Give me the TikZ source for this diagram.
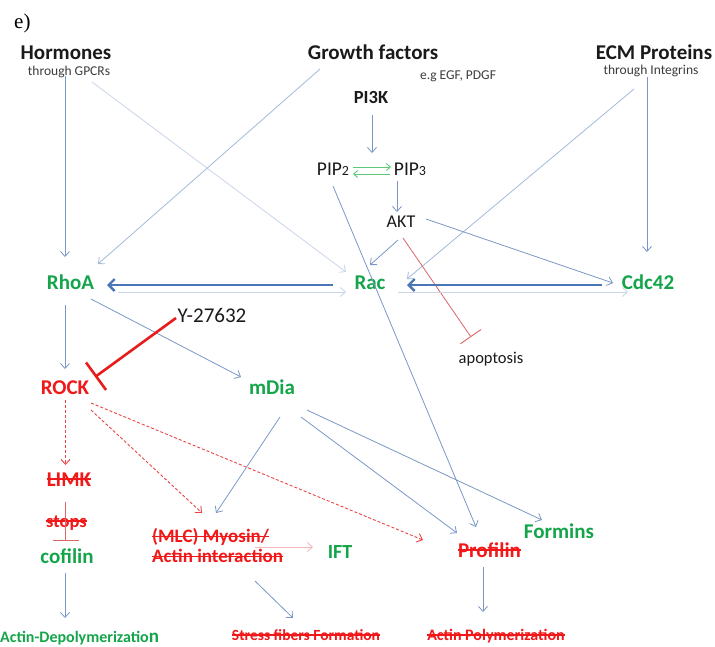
\documentclass[tikz,border=0pt]{standalone}
\usepackage{fontspec}
\setmainfont{Carlito}
\newfontfamily\serifface{Liberation Serif}
\usetikzlibrary{arrows.meta,calc}

% struck-out text: a rule laid across the word
\newcommand{\strk}[1]{{\setbox0=\hbox{#1}\rlap{\rule[.28em]{\wd0}{.08em}}\box0}}

\definecolor{gene}{HTML}{14A54B}
\definecolor{off}{HTML}{F01818}
\definecolor{ink}{HTML}{1A1A1A}
\definecolor{link}{HTML}{7A98C6}
\definecolor{linkmid}{HTML}{A3BADC}
\definecolor{linklight}{HTML}{C9D6EA}
\definecolor{linkbold}{HTML}{4A76B8}
\definecolor{pipgreen}{HTML}{5CC97A}
\definecolor{block}{HTML}{E81C1C}
\definecolor{blocksoft}{HTML}{DC6464}
\definecolor{dashred}{HTML}{EC4444}
\definecolor{palered}{HTML}{F2B6B6}

\tikzset{
  lbl/.style={inner sep=0pt, anchor=base},
  head/.style={lbl, font=\fontsize{21}{21}\selectfont\bfseries, text=ink},
  sub/.style={lbl, font=\fontsize{13.5}{13.5}\selectfont, text=ink!85},
  actor/.style={lbl, font=\fontsize{21}{21}\selectfont\bfseries, text=gene},
  inhibited/.style={lbl, font=\fontsize{21}{21}\selectfont\bfseries, text=off},
  plain/.style={lbl, font=\fontsize{19.5}{19.5}\selectfont, text=ink},
  tip/.style={-{Straight Barb[length=5pt,width=9pt]}},
  conn/.style={tip, draw=link, line width=0.8pt},
  connmid/.style={tip, draw=linkmid, line width=0.8pt},
  connlight/.style={tip, draw=linklight, line width=0.8pt},
  connbold/.style={-{Straight Barb[length=6pt,width=12pt]}, draw=linkbold, line width=2.4pt},
  pip/.style={-{Straight Barb[length=4pt,width=7pt]}, draw=pipgreen, line width=0.9pt},
  dashconn/.style={tip, draw=dashred, line width=0.9pt, dash pattern=on 3pt off 2pt},
}

\begin{document}
\begin{tikzpicture}[x=1pt, y=-1pt]
\path[fill=white] (0,0) rectangle (715,646);
\useasboundingbox (0,0) rectangle (715,646);

% ---- labels ----
\node[lbl, anchor=base west, font=\serifface\fontsize{21}{21}\selectfont] (panel) at (14,28) {e)};

\node[head] (hormones) at (66,59) {Hormones};
\node[sub] (gpcr) at (69,75) {through GPCRs};
\node[head] (growth) at (373,59) {Growth factors};
\node[sub] (egf) at (458,79) {e.g EGF, PDGF};
\node[head] (ecm) at (654,59) {ECM Proteins};
\node[sub] (integrins) at (651,74.5) {through Integrins};

\node[head, font=\fontsize{18.5}{18.5}\selectfont\bfseries] (pik) at (371,103) {PI3K};
\node[plain] (pip2) at (333,175) {PIP{\fontsize{14}{14}\selectfont 2}};
\node[plain] (pip3) at (410,175) {PIP{\fontsize{14}{14}\selectfont 3}};
\node[plain, font=\fontsize{18}{18}\selectfont] (akt) at (401,227) {AKT};

\node[actor] (rhoa) at (70.5,289) {RhoA};
\node[actor] (rac) at (370,289) {Rac};
\node[actor] (cdc) at (648,289) {Cdc42};

\node[plain, font=\fontsize{21}{21}\selectfont] (y27) at (212,322) {Y-27632};
\node[plain, font=\fontsize{16.5}{16.5}\selectfont] (apop) at (491,363) {apoptosis};

\node[lbl, font=\fontsize{21}{21}\selectfont\bfseries, text=off] (rock) at (65,394) {ROCK};
\node[actor] (mdia) at (272,394) {mDia};

\node[inhibited] (limk) at (69,486) {\strk{LIMK}};
\node[inhibited, font=\fontsize{18.5}{18.5}\selectfont\bfseries] (stops) at (66.5,527) {\strk{stops}};
\node[actor] (cofilin) at (67,563) {cofilin};

\node[inhibited, anchor=south west, align=left, font=\fontsize{19}{20}\selectfont\bfseries]
  (myosin) at (152,563) {\strk{(MLC) Myosin/}\\\strk{Actin interaction}};
\node[actor, font=\fontsize{20}{20}\selectfont\bfseries] (ift) at (340,558) {IFT};
\node[inhibited] (profilin) at (489.5,557) {\strk{Profilin}};
\node[actor] (formins) at (559,538) {Formins};

\node[actor, anchor=base west, font=\fontsize{16}{16}\selectfont\bfseries] (depol) at (0,642)
  {Actin-Depolymerizatio{\fontsize{19}{19}\selectfont n}};
\node[inhibited, font=\fontsize{15.5}{15.5}\selectfont\bfseries] (stress) at (306,640) {\strk{Stress fibers Formation}};
\node[inhibited, font=\fontsize{16}{16}\selectfont\bfseries] (polym) at (496,640) {\strk{Actin Polymerization}};

% ---- inputs from the receptors ----
\draw[conn] ($(hormones.base)+(-1,17)$) -- ($(rhoa.base)+(-5.5,-32)$);
\draw[connlight] ($(hormones.base)+(26,23)$) -- ($(rac.base)+(-24,-17)$);
\draw[connmid] ($(growth.base)+(-53,10)$) -- ($(rhoa.base)+(27.5,-25)$);
\draw[connmid] ($(ecm.base)+(-20,30)$) -- ($(rac.base)+(37,-10)$);
\draw[conn] ($(ecm.base)+(-7,18)$) -- ($(cdc.base)+(-1,-37)$);

% ---- PI3K / AKT branch ----
\draw[conn] ($(pik.base)+(1,12)$) -- ($(pip2.base)+(39,-22)$);
\draw[pip] ($(pip2.base)+(20,-8)$) -- ($(pip3.base)+(-19,-8)$);
\draw[pip] ($(pip3.base)+(-20,-1)$) -- ($(pip2.base)+(20,-1)$);
\draw[conn] ($(pip3.base)+(-13,6)$) -- ($(akt.base)+(-4,-15)$);
\draw[conn] ($(akt.base)+(-3,13)$) -- ($(rac.base)+(0,-24)$);
\draw[conn] ($(akt.base)+(25,-8)$) -- ($(cdc.base)+(-35,-6)$);
\draw[draw=blocksoft, line width=0.8pt, -{Bar[width=25pt,line width=0.9pt]}]
  ($(akt.base)+(2,11)$) -- ($(apop.base)+(-20,-26)$);
\draw[conn] ($(pip2.base)+(0,11)$) -- ($(profilin.base)+(-13.5,-30)$);

% ---- crosstalk between the GTPases ----
\draw[connbold] ($(rac.base)+(-37,-4)$) -- ($(rhoa.base)+(36.5,-4)$);
\draw[connlight] ($(rhoa.base)+(47.5,3)$) -- ($(rac.base)+(-24,3)$);
\draw[connbold] ($(cdc.base)+(-46,-4)$) -- ($(rac.base)+(37,-4)$);
\draw[connlight] ($(rac.base)+(28,3)$) -- ($(cdc.base)+(-20,3)$);

% ---- RhoA effectors ----
\draw[conn] ($(rhoa.base)+(-5.5,16)$) -- ($(rock.base)+(0,-25)$);
\draw[conn] ($(rhoa.base)+(20.5,10)$) -- ($(mdia.base)+(-31,-17)$);
\draw[draw=block, line width=2.6pt, -{Bar[width=34pt]}]
  ($(y27.base)+(-36,-4)$) -- ($(rock.base)+(30,-17)$);

% ---- ROCK targets ----
\draw[dashconn] ($(rock.base)+(0.5,6)$) -- ($(limk.base)+(-3.5,-21)$);
\draw[dashconn] ($(rock.base)+(26,16)$) -- ($(myosin.south west)+(50,-50)$);
\draw[dashconn] ($(rock.base)+(26,9)$) -- ($(profilin.base)+(-66.5,-17)$);
\draw[draw=blocksoft, line width=0.9pt, -{Bar[width=26pt,line width=0.9pt]}]
  ($(limk.base)+(-3.5,16)$) -- ($(cofilin.base)+(-1.5,-22)$);
\draw[conn] ($(cofilin.base)+(-2,10)$) -- ($(depol.base west)+(65,-24)$);

% ---- mDia targets ----
\draw[conn] ($(mdia.base)+(8,23)$) -- ($(myosin.south west)+(64,-50)$);
\draw[conn] ($(mdia.base)+(29,23)$) -- ($(profilin.base)+(-32.5,-24)$);
\draw[conn] ($(mdia.base)+(35,16)$) -- ($(formins.base)+(-17,-18)$);

% ---- outputs ----
\draw[tip, draw=palered, line width=0.8pt] ($(myosin.south west)+(103,-16)$) -- ($(ift.base)+(-27,-11)$);
\draw[conn] ($(myosin.south west)+(103,18)$) -- ($(stress.base)+(-13,-22)$);
\draw[conn] ($(profilin.base)+(-6.5,10)$) -- ($(polym.base)+(-13,-28)$);
\end{tikzpicture}
\end{document}
